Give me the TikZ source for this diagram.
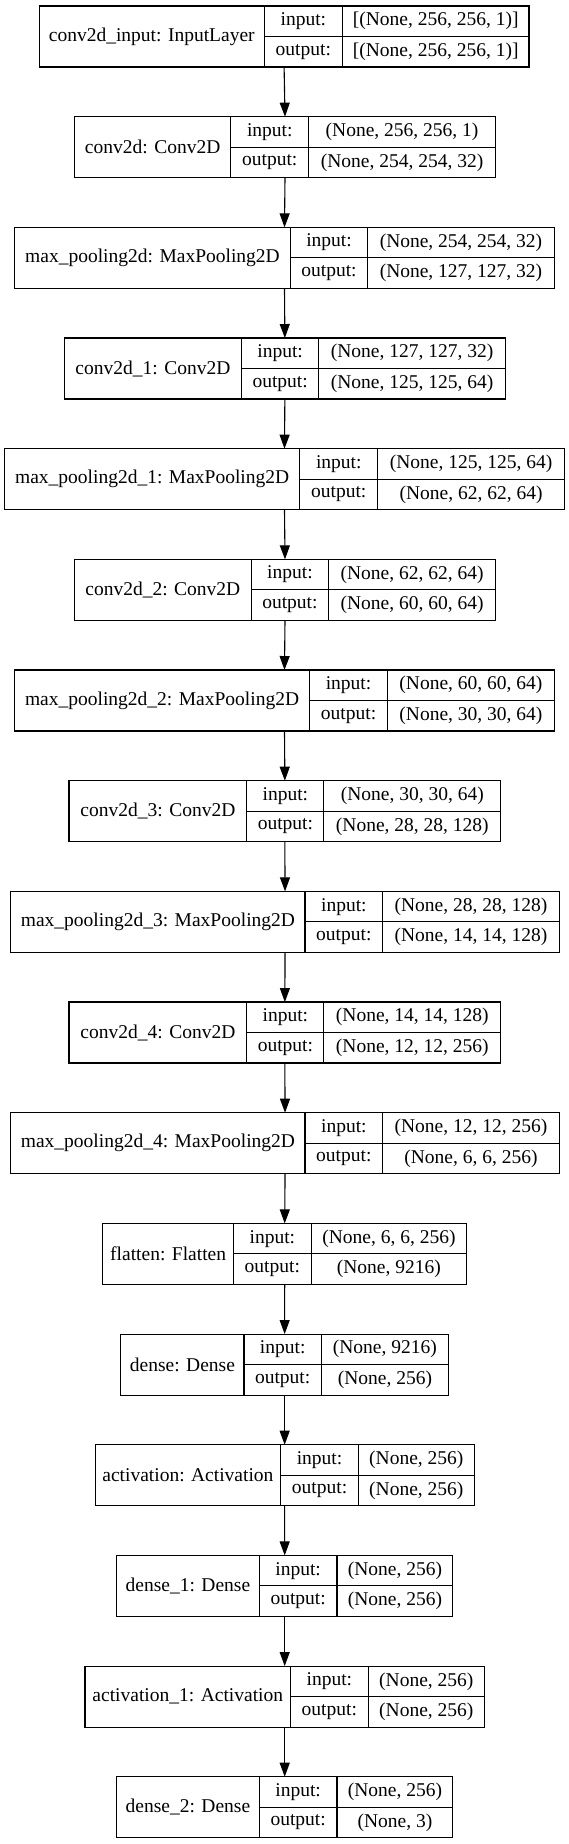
\documentclass[tikz,border=0pt]{standalone}
\usepackage{fontspec}
\setmainfont{Liberation Serif}
\usetikzlibrary{arrows.meta}
\tikzset{
  cellbox/.style={draw=black, line width=1.1pt, inner sep=0pt, outer sep=0pt,
    minimum height=30.5pt, font=\fontsize{19.5}{23}\selectfont},
  outerbox/.style={inner sep=0pt, outer sep=0pt, minimum height=61pt},
  conn/.style={draw=black, line width=1.1pt, -{Triangle[length=14pt,width=10pt]}}
}
\newcommand{\kl}[8]{%
  \pgfmathsetmacro{\kltop}{6+110.67*#1}%
  \pgfmathsetmacro{\klmid}{\kltop+30.5}%
  \pgfmathsetmacro{\klwt}{#5-#2}%
  \pgfmathsetmacro{\klwa}{#3-#2}%
  \pgfmathsetmacro{\klwb}{#4-#3}%
  \pgfmathsetmacro{\klwc}{#5-#4}%
  \node[outerbox, minimum width=\klwt pt, anchor=north west] (b#1) at (#2,\kltop) {};
  \node[cellbox, minimum width=\klwa pt, minimum height=61pt, anchor=north west] (b#1l) at (#2,\kltop) {#6};
  \node[cellbox, minimum width=\klwb pt, anchor=north west] (b#1a) at (#3,\kltop) {input:};
  \node[cellbox, minimum width=\klwb pt, anchor=north west] (b#1b) at (#3,\klmid) {output:};
  \node[cellbox, minimum width=\klwc pt, anchor=north west] (b#1c) at (#4,\kltop) {#7};
  \node[cellbox, minimum width=\klwc pt, anchor=north west] (b#1d) at (#4,\klmid) {#8};
}
\begin{document}
\begin{tikzpicture}[x=1pt,y=-1pt]
\fill[white] (0,0) rectangle (569,1844);
\useasboundingbox (0,0) rectangle (569,1844);
\kl{0}{39.2}{264.3}{342.4}{529.0}{conv2d\_input: InputLayer}{[(None, 256, 256, 1)]}{[(None, 256, 256, 1)]}
\kl{1}{74.4}{230.9}{308.6}{495.6}{conv2d: Conv2D}{(None, 256, 256, 1)}{(None, 254, 254, 32)}
\kl{2}{14.5}{290.5}{367.5}{554.5}{max\_pooling2d: MaxPooling2D}{(None, 254, 254, 32)}{(None, 127, 127, 32)}
\kl{3}{64.3}{241.5}{318.8}{505.4}{conv2d\_1: Conv2D}{(None, 127, 127, 32)}{(None, 125, 125, 64)}
\kl{4}{4.4}{299.9}{377.6}{564.6}{max\_pooling2d\_1: MaxPooling2D}{(None, 125, 125, 64)}{(None, 62, 62, 64)}
\kl{5}{74.4}{251.3}{328.6}{495.6}{conv2d\_2: Conv2D}{(None, 62, 62, 64)}{(None, 60, 60, 64)}
\kl{6}{14.5}{309.7}{387.4}{554.5}{max\_pooling2d\_2: MaxPooling2D}{(None, 60, 60, 64)}{(None, 30, 30, 64)}
\kl{7}{69.0}{246.9}{323.9}{500.7}{conv2d\_3: Conv2D}{(None, 30, 30, 64)}{(None, 28, 28, 128)}
\kl{8}{10.9}{305.0}{382.7}{559.2}{max\_pooling2d\_3: MaxPooling2D}{(None, 28, 28, 128)}{(None, 14, 14, 128)}
\kl{9}{69.0}{246.9}{323.9}{500.7}{conv2d\_4: Conv2D}{(None, 14, 14, 128)}{(None, 12, 12, 256)}
\kl{10}{10.9}{305.0}{382.7}{559.2}{max\_pooling2d\_4: MaxPooling2D}{(None, 12, 12, 256)}{(None, 6, 6, 256)}
\kl{11}{102.8}{233.5}{311.2}{466.6}{flatten: Flatten}{(None, 6, 6, 256)}{(None, 9216)}
\kl{12}{120.9}{244.0}{321.4}{448.4}{dense: Dense}{(None, 9216)}{(None, 256)}
\kl{13}{95.1}{280.7}{358.4}{474.2}{activation: Activation}{(None, 256)}{(None, 256)}
\kl{14}{116.6}{259.3}{337.0}{452.8}{dense\_1: Dense}{(None, 256)}{(None, 256)}
\kl{15}{85.0}{290.5}{368.2}{484.4}{activation\_1: Activation}{(None, 256)}{(None, 256)}
\kl{16}{116.6}{259.3}{337.0}{452.8}{dense\_2: Dense}{(None, 256)}{(None, 3)}
\foreach \i [evaluate=\i as \j using int(\i+1)] in {0,...,15}
  \draw[conn] (b\i.south) -- (b\j.north);
\end{tikzpicture}
\end{document}
